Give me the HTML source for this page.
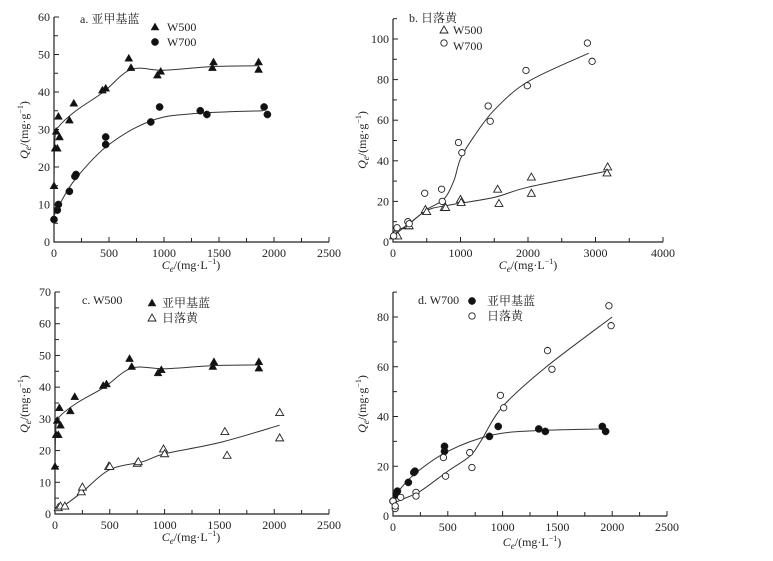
<!DOCTYPE html>
<html><head><meta charset="utf-8"><style>
body{margin:0;background:#fff}
svg{display:block}
text{font-family:"Liberation Serif","Noto Serif CJK SC",serif;font-size:12px;fill:#222}
</style></head><body>
<svg id="s" width="773" height="561" viewBox="0 0 773 561" xmlns="http://www.w3.org/2000/svg">
<g id="g"></g>
<text x="80" y="23">a. 亚甲基蓝</text>
<text x="167" y="31">W500</text><text x="167" y="46">W700</text>
<text x="191" y="269" text-anchor="middle"><tspan font-style="italic">C</tspan><tspan font-size="9" font-style="italic" dy="3">e</tspan><tspan dy="-3">/(mg·L</tspan><tspan font-size="8" dy="-5">−1</tspan><tspan dy="5">)</tspan></text>
<text transform="translate(28,130) rotate(-90)" text-anchor="middle"><tspan font-style="italic">Q</tspan><tspan font-size="9" font-style="italic" dy="3">e</tspan><tspan dy="-3">/(mg·g</tspan><tspan font-size="8" dy="-5">−1</tspan><tspan dy="5">)</tspan></text>
<text x="409" y="22">b. 日落黄</text>
<text x="453" y="34">W500</text><text x="453" y="50">W700</text>
<text x="528" y="269" text-anchor="middle"><tspan font-style="italic">C</tspan><tspan font-size="9" font-style="italic" dy="3">e</tspan><tspan dy="-3">/(mg·L</tspan><tspan font-size="8" dy="-5">−1</tspan><tspan dy="5">)</tspan></text>
<text transform="translate(366,140) rotate(-90)" text-anchor="middle"><tspan font-style="italic">Q</tspan><tspan font-size="9" font-style="italic" dy="3">e</tspan><tspan dy="-3">/(mg·g</tspan><tspan font-size="8" dy="-5">−1</tspan><tspan dy="5">)</tspan></text>
<text x="82" y="304">c. W500</text>
<text x="162" y="307">亚甲基蓝</text><text x="162" y="322">日落黄</text>
<text x="191" y="541" text-anchor="middle"><tspan font-style="italic">C</tspan><tspan font-size="9" font-style="italic" dy="3">e</tspan><tspan dy="-3">/(mg·L</tspan><tspan font-size="8" dy="-5">−1</tspan><tspan dy="5">)</tspan></text>
<text transform="translate(28,404) rotate(-90)" text-anchor="middle"><tspan font-style="italic">Q</tspan><tspan font-size="9" font-style="italic" dy="3">e</tspan><tspan dy="-3">/(mg·g</tspan><tspan font-size="8" dy="-5">−1</tspan><tspan dy="5">)</tspan></text>
<text x="418" y="304">d. W700</text>
<text x="487" y="305">亚甲基蓝</text><text x="487" y="320">日落黄</text>
<text x="532" y="546" text-anchor="middle"><tspan font-style="italic">C</tspan><tspan font-size="9" font-style="italic" dy="3">e</tspan><tspan dy="-3">/(mg·L</tspan><tspan font-size="8" dy="-5">−1</tspan><tspan dy="5">)</tspan></text>
<text transform="translate(366,404) rotate(-90)" text-anchor="middle"><tspan font-style="italic">Q</tspan><tspan font-size="9" font-style="italic" dy="3">e</tspan><tspan dy="-3">/(mg·g</tspan><tspan font-size="8" dy="-5">−1</tspan><tspan dy="5">)</tspan></text>
</svg>
<script>
var g=document.getElementById('g'),NS='http://www.w3.org/2000/svg';
function el(n,a){var e=document.createElementNS(NS,n);for(var k in a)e.setAttribute(k,a[k]);g.appendChild(e);return e;}
function txt(x,y,s,anc){var e=el('text',{x:x,y:y,'text-anchor':anc||'middle'});e.textContent=s;}
function mkp(X,Y,t){
 if(t=='tf'||t=='to'){el('path',{d:'M'+X+','+(Y-4)+'L'+(X+4)+','+(Y+3)+'L'+(X-4)+','+(Y+3)+'Z',fill:t=='tf'?'#111':'#fff',stroke:'#222','stroke-width':t=='tf'?0.5:0.9});}
 else el('circle',{cx:X,cy:Y,r:t=='cf'?3.6:3.2,fill:t=='cf'?'#111':'#fff',stroke:'#222','stroke-width':t=='cf'?0.5:0.9});}
function mk(P,x,y,t){mkp(P.sx(x),P.sy(y),t);}
function curve(P,pts){var p=pts.map(function(a){return[P.sx(a[0]),P.sy(a[1])]});var d='M'+p[0];
 for(var i=0;i<p.length-1;i++){var p0=p[Math.max(i-1,0)],p1=p[i],p2=p[i+1],p3=p[Math.min(i+2,p.length-1)];
 d+='C'+(p1[0]+(p2[0]-p0[0])/6)+','+(p1[1]+(p2[1]-p0[1])/6)+' '+(p2[0]-(p3[0]-p1[0])/6)+','+(p2[1]-(p3[1]-p1[1])/6)+' '+p2[0]+','+p2[1];}
 el('path',{d:d,fill:'none',stroke:'#333','stroke-width':1});}
function panel(o){var P={sx:function(v){return o.x0+(v/o.xmax)*(o.x1-o.x0)},sy:function(v){return o.y0-(v/o.ymax)*(o.y0-o.y1)}};
 el('path',{d:'M'+o.x0+','+o.top+'V'+o.y0+'H'+o.x1,fill:'none',stroke:'#222','stroke-width':1.2});
 for(var v=0;v<=o.xmax+1e-6;v+=o.xs/2){var X=P.sx(v),maj=Math.abs(v/o.xs-Math.round(v/o.xs))<1e-6;
  el('line',{x1:X,x2:X,y1:o.y0,y2:o.y0-(maj?5:4),stroke:'#222'}); if(maj)txt(X,o.y0+15,v);}
 for(var v=0;P.sy(v)>=o.top-0.5;v+=o.ys/2){var Y=P.sy(v),maj=Math.abs(v/o.ys-Math.round(v/o.ys))<1e-6;
  el('line',{x1:o.x0,x2:o.x0+(maj?5:4),y1:Y,y2:Y,stroke:'#222'}); if(maj&&v<=o.ymax)txt(o.x0-4,Y+4,v,'end');}
 return P;}
var A=panel({x0:54,x1:329,xmax:2500,xs:500,y0:242,y1:17,ymax:60,ys:10,top:17});
var B=panel({x0:393,x1:663,xmax:4000,xs:1000,y0:242,y1:39,ymax:100,ys:20,top:19});
var C=panel({x0:55,x1:329,xmax:2500,xs:500,y0:514,y1:292,ymax:70,ys:10,top:292});
var D=panel({x0:393,x1:667,xmax:2500,xs:500,y0:516,y1:317,ymax:80,ys:20,top:292});
var bl=[[0,15],[10,25],[20,29.5],[30,25],[40,33.5],[50,28],[140,32.5],[180,37],[440,40.5],[470,41],[680,49],[700,46.5],[940,44.5],[970,45.5],[1440,46.5],[1450,48],[1860,48],[1860,46]];
var blc=[[0,15],[10,28],[50,31],[200,35],[450,40],[700,46],[1000,45.8],[1450,46.8],[1860,47]];
var w7=[[0,6],[30,8.5],[40,10],[140,13.5],[190,17.5],[200,18],[470,26],[470,28],[880,32],[960,36],[1330,35],[1390,34],[1910,36],[1940,34]];
var w7c=[[0,7],[50,10],[200,17],[500,26],[900,32.5],[1300,34.3],[1900,35]];
curve(A,blc);curve(A,w7c);bl.forEach(function(p){mk(A,p[0],p[1],'tf')});w7.forEach(function(p){mk(A,p[0],p[1],'cf')});
mkp(155,27,'tf');mkp(155,42,'cf');
var b5=[[10,3],[30,4],[70,3],[220,8],[240,8],[480,16],[500,15],[760,17],[780,17],[1000,21],[1010,19.5],[1550,26],[1570,19],[2050,32],[2050,24],[3180,37],[3170,34]];
var b7=[[10,3],[60,7],[220,10],[240,9],[470,24],[720,26],[730,20],[970,49],[1020,44],[1410,67],[1440,59.5],[1970,84.5],[1990,77],[2880,98],[2950,89]];
curve(B,[[0,3],[200,8],[500,15.5],[800,18],[1500,22],[2000,27],[3180,35]]);
curve(B,[[0,5],[200,8],[500,16],[750,21],[900,30],[1000,41],[1200,52],[1500,65],[2000,79],[2900,93]]);
b5.forEach(function(p){mk(B,p[0],p[1],'to')});b7.forEach(function(p){mk(B,p[0],p[1],'co')});
mkp(444,30,'to');mkp(444,43,'co');
var c5=[[30,2],[50,2.5],[90,2.5],[240,7],[250,8.5],[490,15],[500,15],[750,16],[760,16.5],[990,20.5],[1000,19],[1550,26],[1570,18.5],[2050,32],[2050,24]];
curve(C,blc);curve(C,[[60,2],[250,7],[500,14],[800,16.5],[1000,19],[1500,22.5],[2050,28]]);
bl.forEach(function(p){mk(C,p[0],p[1],'tf')});c5.forEach(function(p){mk(C,p[0],p[1],'to')});
mkp(152,303,'tf');mkp(152,318,'to');
var d7=[[0,6],[20,3],[20,4],[70,7.5],[210,9.5],[210,8],[460,23.5],[480,16],[700,25.5],[720,19.5],[980,48.5],[1010,43.5],[1410,66.5],[1450,59],[1970,84.5],[1990,76.5]];
curve(D,w7c);curve(D,[[0,5],[100,7],[250,10],[500,18],[700,24],[800,30],[1000,44],[1400,60],[2000,80]]);
w7.forEach(function(p){mk(D,p[0],p[1],'cf')});d7.forEach(function(p){mk(D,p[0],p[1],'co')});
mkp(472,301,'cf');mkp(472,316,'co');
</script>
</body></html>
